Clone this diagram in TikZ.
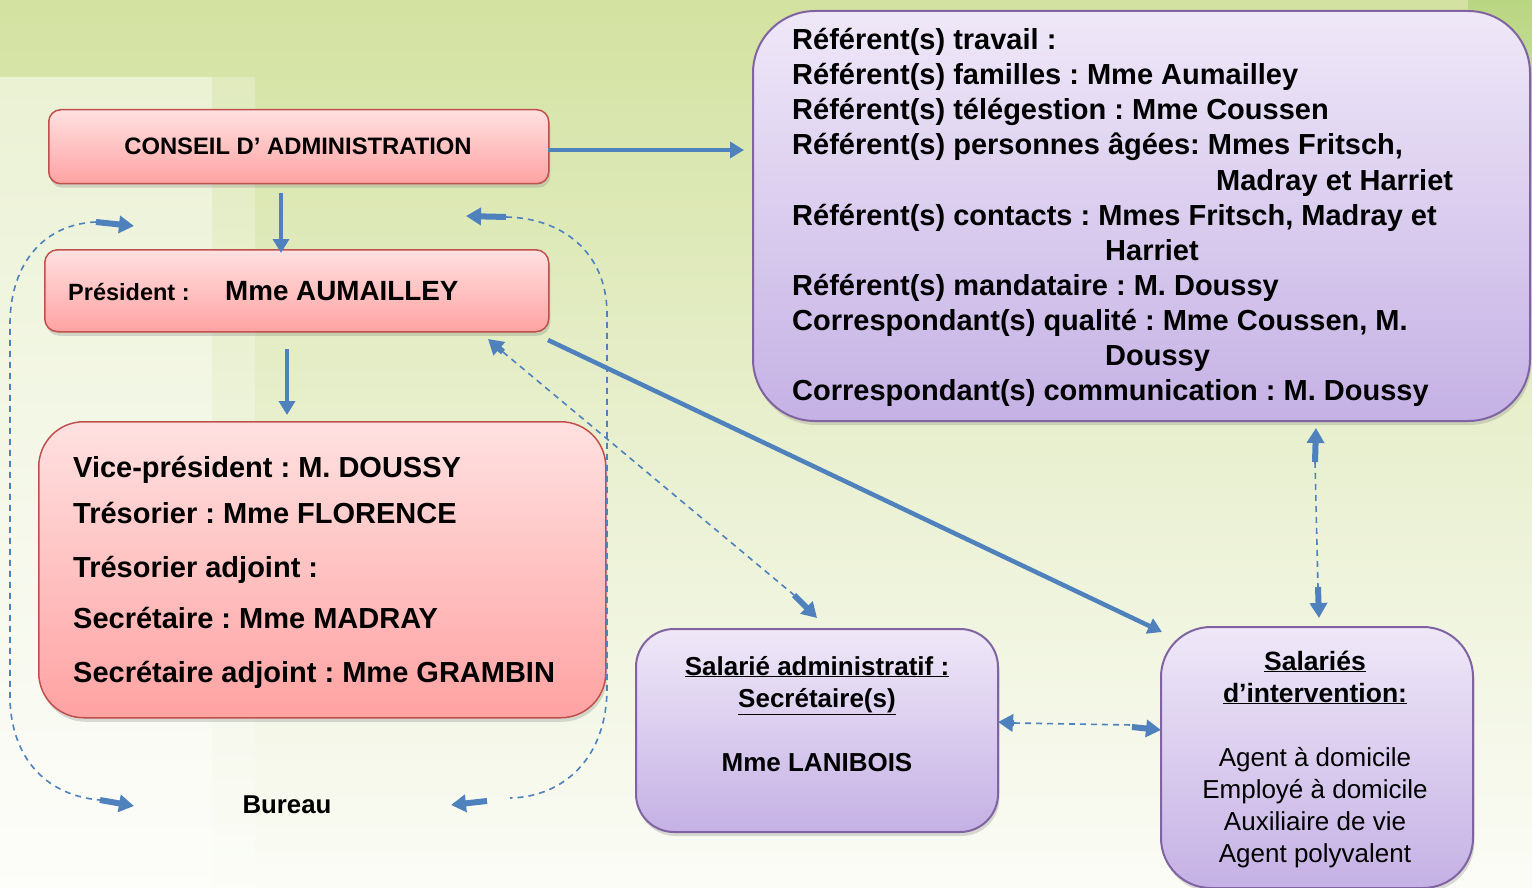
\documentclass[tikz,border=0pt]{standalone}
\usepackage{fontspec}
\setmainfont{Liberation Sans}
\usetikzlibrary{arrows.meta,shadows}
\definecolor{arrblue}{HTML}{4F81BD}
\definecolor{redline}{HTML}{C0504D}
\definecolor{pinktop}{HTML}{FFE1E1}
\definecolor{pinkbot}{HTML}{FFA2A2}
\definecolor{purline}{HTML}{8064A2}
\definecolor{purtop}{HTML}{EFE8F8}
\definecolor{purbot}{HTML}{C5B1E5}
\definecolor{bgtop}{HTML}{D3E2A0}
\definecolor{bgmid}{HTML}{E9F0D0}
\definecolor{bgbot}{HTML}{FBFCF6}
\definecolor{bgstrip}{HTML}{B9D682}
\newcommand{\myfs}[2]{\fontsize{#1}{#2}\selectfont}
\frenchspacing
\begin{document}
\begin{tikzpicture}[x=1pt,y=-1pt,
  box/.style={inner sep=0pt, anchor=north west,
    drop shadow={shadow xshift=1.5pt, shadow yshift=-4pt, opacity=0.28}},
  pinkbox/.style={box, draw=redline, line width=1.5pt, top color=pinktop, bottom color=pinkbot},
  purbox/.style={box, draw=purline, line width=2pt, top color=purtop, bottom color=purbot},
  solidarr/.style={draw=arrblue, line width=4.5pt, -{Triangle[length=14pt,width=16pt]}},
  dashline/.style={draw=arrblue, line width=1.6pt, dash pattern=on 6pt off 5pt},
  tipseg/.style={draw=arrblue, line width=6pt, -{Triangle[length=15pt,width=17pt]}},
  txt/.style={inner sep=0pt, anchor=base west, execute at begin node=\frenchspacing},
  ctxt/.style={inner sep=0pt, anchor=base, execute at begin node=\frenchspacing},
]
% ---------- background ----------
\useasboundingbox (0,0) rectangle (1532,888);
\fill[top color=bgtop, bottom color=bgmid] (0,0) rectangle (1532,450);
\fill[top color=bgmid, bottom color=bgbot] (0,450) rectangle (1532,888);
\fill[white, opacity=0.5] (0,77) rectangle (212,888);
\fill[white, opacity=0.25] (212,77) rectangle (255,888);
\fill[top color=bgstrip, bottom color=bgmid] (1468,0) rectangle (1532,300);

% ---------- boxes ----------
\node[pinkbox, rounded corners=12pt, minimum width=500pt, minimum height=74pt] (ca) at (48,109) {};
\node[ctxt, font=\bfseries\myfs{23.8}{28}] (catxt) at (298,155) {CONSEIL D’ ADMINISTRATION};

\node[pinkbox, rounded corners=13pt, minimum width=504pt, minimum height=82pt] (pres) at (44,249) {};
\node[txt, font=\bfseries\myfs{23.5}{28}] (prestxt) at (68,300) {Président :};
\node[txt, font=\bfseries\myfs{27.8}{33}] (presname) at (225,300) {Mme AUMAILLEY};

\node[pinkbox, rounded corners=45pt, minimum width=567pt, minimum height=296pt] (bur) at (38,421) {};
\node[txt, font=\bfseries\myfs{29}{35}] (b1) at (73,477) {Vice-président : M. DOUSSY};
\node[txt, font=\bfseries\myfs{29}{35}] (b2) at (73,523) {Trésorier : Mme FLORENCE};
\node[txt, font=\bfseries\myfs{29}{35}] (b3) at (73,577) {Trésorier adjoint :};
\node[txt, font=\bfseries\myfs{29}{35}] (b4) at (73,628) {Secrétaire : Mme MADRAY};
\node[txt, font=\bfseries\myfs{29}{35}] (b5) at (73,682) {Secrétaire adjoint : Mme GRAMBIN};

\node[ctxt, font=\bfseries\myfs{25.8}{30}] (burlabel) at (287,813) {Bureau};

\node[purbox, rounded corners=62pt, minimum width=777pt, minimum height=410pt] (ref) at (752,10) {};
\node[txt, font=\bfseries\myfs{29}{35}] (r1) at (792,50) {Référent(s) travail :};
\node[txt, font=\bfseries\myfs{29}{35}] (r2) at (792,85) {Référent(s) familles : Mme Aumailley};
\node[txt, font=\bfseries\myfs{29}{35}] (r3) at (792,120) {Référent(s) télégestion : Mme Coussen};
\node[txt, font=\bfseries\myfs{29}{35}] (r4) at (792,155) {Référent(s) personnes âgées: Mmes Fritsch,};
\node[txt, font=\bfseries\myfs{29}{35}] (r5) at (1216,190) {Madray et Harriet};
\node[txt, font=\bfseries\myfs{29}{35}] (r6) at (792,225) {Référent(s) contacts : Mmes Fritsch, Madray et};
\node[txt, font=\bfseries\myfs{29}{35}] (r7) at (1105,260) {Harriet};
\node[txt, font=\bfseries\myfs{29}{35}] (r8) at (792,295) {Référent(s) mandataire : M. Doussy};
\node[txt, font=\bfseries\myfs{29}{35}] (r9) at (792,330) {Correspondant(s) qualité : Mme Coussen, M.};
\node[txt, font=\bfseries\myfs{29}{35}] (r10) at (1105,365) {Doussy};
\node[txt, font=\bfseries\myfs{29}{35}] (r11) at (792,400) {Correspondant(s) communication : M. Doussy};

\node[purbox, rounded corners=38pt, minimum width=362pt, minimum height=203pt] (adm) at (635,628) {};
\node[ctxt, font=\bfseries\myfs{26}{32}] (adm1) at (817,675) {\underline{Salarié administratif :}};
\node[ctxt, font=\bfseries\myfs{26}{32}] (adm2) at (817,707) {\underline{Secrétaire(s)}};
\node[ctxt, font=\bfseries\myfs{26}{32}] (adm3) at (817,771) {Mme LANIBOIS};

\node[purbox, rounded corners=50pt, minimum width=312pt, minimum height=261pt] (sal) at (1160,626) {};
\node[ctxt, font=\bfseries\myfs{26.5}{32}] (sal1) at (1315,670) {\underline{Salariés}};
\node[ctxt, font=\bfseries\myfs{26.5}{32}] (sal2) at (1315,702) {\underline{d’intervention:}};
\node[ctxt, font=\myfs{26}{32}] (sal3) at (1315,766) {Agent à domicile};
\node[ctxt, font=\myfs{26}{32}] (sal4) at (1315,798) {Employé à domicile};
\node[ctxt, font=\myfs{26}{32}] (sal5) at (1315,830) {Auxiliaire de vie};
\node[ctxt, font=\myfs{26}{32}] (sal6) at (1315,862) {Agent polyvalent};

% ---------- solid connectors ----------
\coordinate (caout) at (548,150);
\coordinate (refin) at (744,150);
\draw[solidarr] (caout) -- (refin);

\coordinate (a1) at (281,193);
\draw[solidarr] (a1) -- ([yshift=-4pt]a1 |- pres.north);

\coordinate (a2) at (287,349);
\draw[solidarr] (a2) -- ([yshift=6pt]a2 |- bur.north);

\coordinate (a3s) at (548,340);
\coordinate (a3e) at (1162,632);
\draw[solidarr] (a3s) -- (a3e);

% ---------- dashed connectors ----------
% Bureau loops
\coordinate (lt) at (96,222);
\coordinate (ltt) at (134,226);
\coordinate (lb) at (100,800);
\coordinate (lbt) at (134,806);
\draw[dashline] (lt) .. controls (45,224) and (11,262) .. (10,322) -- (10,700)
  .. controls (12,762) and (50,796) .. (lb);
\draw[tipseg] (lt) -- (ltt);
\draw[tipseg] (lb) -- (lbt);

\coordinate (rt) at (506,217);
\coordinate (rtt) at (466,216);
\coordinate (rb) at (510,798);
\coordinate (rbs) at (487,801);
\coordinate (rbt) at (451,805);
\draw[dashline] (rt) .. controls (562,218) and (606,252) .. (607,312) -- (607,690)
  .. controls (606,760) and (562,797) .. (rb);
\draw[tipseg] (rt) -- (rtt);
\draw[tipseg] (rbs) -- (rbt);

% President <-> Salarie administratif
\coordinate (d1) at (488,339);
\coordinate (d1s) at (503,352);
\coordinate (d2s) at (794,595);
\coordinate (d2) at (817,618);
\draw[dashline] (d1s) -- (d2s);
\draw[tipseg] (d1s) -- (d1);
\draw[tipseg] (d2s) -- (d2);

% Referents <-> Salaries d'intervention
\coordinate (v1) at (1316,428);
\coordinate (v1s) at (1315,462);
\coordinate (v2s) at (1318,587);
\coordinate (v2) at (1319,618);
\draw[dashline] (v1s) -- (v2s);
\draw[tipseg] (v1s) -- (v1);
\draw[tipseg] (v2s) -- (v2);

% Salarie administratif <-> Salaries d'intervention
\coordinate (h1) at (998,722);
\coordinate (h1s) at (1014,723);
\coordinate (h2s) at (1132,727);
\coordinate (h2) at (1161,730);
\draw[dashline] (h1s) -- (1132,725);
\draw[tipseg] (h1s) -- (h1);
\draw[tipseg] (h2s) -- (h2);
\end{tikzpicture}
\end{document}
